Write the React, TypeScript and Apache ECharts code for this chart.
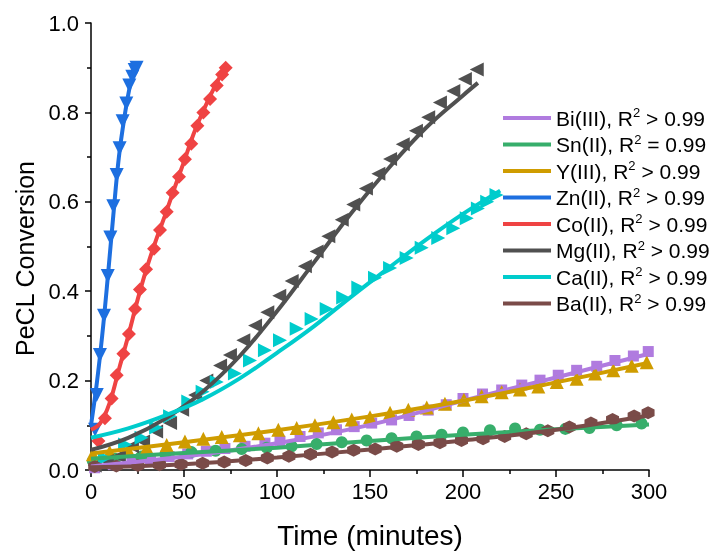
import React, { useEffect, useRef } from "react";
import * as echarts from "echarts";

const seriesNames = ["Bi(III)", "Sn(II)", "Y(III)", "Zn(II)", "Co(II)", "Mg(II)", "Ca(II)", "Ba(II)"];
const r2Labels = ["> 0.99", "= 0.99", "> 0.99", "> 0.99", "> 0.99", "> 0.99", "> 0.99", "> 0.99"];
const colors = ["#B07BDF", "#37AE6B", "#CF9C00", "#1D6FE0", "#EF4343", "#505050", "#00CCCC", "#7A4B48"];

const xTicks = [0, 50, 100, 150, 200, 250, 300];
const yTicks = [0, 0.2, 0.4, 0.6, 0.8, 1.0];

// measured data points [time (min), conversion]
const biData: [number, number][] = [
  [2, 0.005], [12, 0.012], [22, 0.018], [32, 0.024], [42, 0.03], [52, 0.036], [62, 0.042], [72, 0.048],
  [82.8, 0.053], [93.5, 0.06], [101.6, 0.064], [112.4, 0.075], [122.2, 0.083], [132, 0.09], [141.5, 0.097],
  [150.9, 0.105], [161.6, 0.112], [171, 0.122], [181.3, 0.134], [191, 0.146], [200, 0.16], [210.5, 0.17],
  [220.8, 0.179], [231.6, 0.19], [241.4, 0.201], [251.2, 0.212], [261.1, 0.223], [271.9, 0.232],
  [281.7, 0.245], [291.6, 0.255], [299.6, 0.265],
];
const snData: [number, number][] = [
  [1, 0.02], [13, 0.025], [27, 0.03], [40, 0.035], [54, 0.04], [67, 0.043], [81, 0.047], [94.5, 0.05],
  [107.9, 0.053], [121.3, 0.058], [134.8, 0.062], [148.2, 0.066], [161.6, 0.071], [175, 0.075],
  [188.5, 0.079], [200, 0.084], [214.5, 0.089], [228, 0.093], [241.4, 0.09], [255, 0.092], [268, 0.094],
  [282.6, 0.1], [296, 0.104],
];
const yData: [number, number][] = [
  [1, 0.035], [10, 0.04], [20, 0.045], [30, 0.05], [40.7, 0.056], [50.5, 0.064], [60.4, 0.07], [70.3, 0.074],
  [80, 0.078], [90, 0.082], [100.7, 0.09], [110.6, 0.094], [120.4, 0.1], [130.3, 0.107], [140.2, 0.113],
  [150, 0.118], [160.8, 0.128], [170.6, 0.135], [180.5, 0.14], [190.3, 0.148], [200.5, 0.157], [210, 0.165],
  [220.8, 0.174], [230.6, 0.18], [240.5, 0.187], [250.4, 0.197], [261.1, 0.204], [271, 0.216],
  [280.8, 0.223], [290.7, 0.233], [298.8, 0.241],
];
const znData: [number, number][] = [
  [2.2, 0.09], [3.1, 0.168], [4.8, 0.257], [7.0, 0.345], [9.0, 0.434], [10.4, 0.52], [12.0, 0.59],
  [13.8, 0.66], [15.4, 0.72], [17.0, 0.78], [19.0, 0.82], [20.6, 0.86], [22.2, 0.88], [23.5, 0.895], [24.5, 0.9],
];
const coData: [number, number][] = [
  [4, 0.065], [7.5, 0.116], [11.1, 0.16], [13.8, 0.212], [17.4, 0.26], [20.4, 0.304], [23.7, 0.36],
  [26.3, 0.404], [29.6, 0.449], [33.9, 0.495], [37.1, 0.537], [40.7, 0.578], [43.9, 0.62], [47.3, 0.656],
  [50.5, 0.695], [53.9, 0.73], [57.2, 0.77], [60.4, 0.8], [64, 0.83], [67.6, 0.86], [70.5, 0.885], [72.4, 0.9],
];
const mgData: [number, number][] = [
  [2, 0.01], [8.5, 0.02], [15, 0.031], [22, 0.053], [28, 0.064], [35, 0.086], [42.5, 0.105], [49, 0.135],
  [56, 0.168], [62, 0.2], [69.4, 0.234], [74.7, 0.257], [81.9, 0.29], [88.2, 0.323], [94.8, 0.353],
  [101.2, 0.39], [107.9, 0.423], [115, 0.456], [121.3, 0.489], [127.6, 0.523], [134.8, 0.56], [141, 0.594],
  [147.8, 0.63], [154.5, 0.663], [160.8, 0.696], [167.6, 0.729], [174.7, 0.759], [181.3, 0.789],
  [187.6, 0.822], [194.8, 0.848], [201, 0.875], [207.4, 0.896],
];
const caData: [number, number][] = [
  [7.5, 0.027], [18.3, 0.057], [27.2, 0.072], [35, 0.095], [42.5, 0.12], [52.3, 0.153], [60, 0.175],
  [67.6, 0.197], [77.4, 0.216], [85.5, 0.245], [93.5, 0.268], [101.6, 0.29], [110.6, 0.316], [118.6, 0.338],
  [126.7, 0.36], [135.6, 0.386], [143.7, 0.408], [152.7, 0.43], [160.8, 0.452], [169.7, 0.474],
  [177.8, 0.497], [186.7, 0.519], [194.8, 0.541], [202, 0.563], [208, 0.585], [213, 0.6], [218, 0.615],
];
const baData: [number, number][] = [
  [2, 0.008], [13.6, 0.009], [25.2, 0.01], [36.8, 0.012], [48.4, 0.013], [60, 0.015], [71.6, 0.018],
  [83.2, 0.021], [94.8, 0.027], [106.4, 0.031], [118, 0.035], [129.6, 0.04], [141.2, 0.044], [152.8, 0.047],
  [164.4, 0.053], [176, 0.057], [187.6, 0.061], [199.2, 0.066], [210.8, 0.07], [222.4, 0.075], [234, 0.081],
  [245.6, 0.088], [257.2, 0.096], [268.8, 0.105], [280.4, 0.113], [292, 0.121], [299.5, 0.128],
];

// fitted curves [time (min), conversion]
const biFit: [number, number][] = [[0, 0.008], [50, 0.03], [100, 0.06], [150, 0.101], [200, 0.155], [250, 0.207], [300, 0.26]];
const snFit: [number, number][] = [[0, 0.025], [50, 0.038], [100, 0.05], [150, 0.065], [200, 0.079], [250, 0.091], [300, 0.102]];
const yFit: [number, number][] = [[0, 0.037], [50, 0.062], [100, 0.089], [150, 0.12], [200, 0.155], [250, 0.196], [300, 0.24]];
const znFit: [number, number][] = [[0, 0.1], [3, 0.19], [6, 0.3], [9, 0.43], [12, 0.57], [15, 0.7], [18, 0.79], [21, 0.86], [24, 0.905]];
const coFit: [number, number][] = [
  [0, 0.09], [5, 0.105], [10, 0.15], [15, 0.225], [20, 0.3], [25, 0.38], [30, 0.452], [35, 0.515],
  [40, 0.572], [45, 0.632], [50, 0.69], [55, 0.75], [60, 0.8], [65, 0.845], [70, 0.885], [73, 0.905],
];
const mgFit: [number, number][] = [
  [0, 0.045], [20, 0.072], [40, 0.115], [60, 0.175], [80, 0.255], [100, 0.355], [120, 0.465],
  [140, 0.575], [160, 0.675], [180, 0.765], [200, 0.838], [208, 0.866],
];
const caFit: [number, number][] = [
  [0, 0.072], [20, 0.093], [40, 0.122], [60, 0.158], [80, 0.205], [100, 0.262], [120, 0.322],
  [140, 0.388], [160, 0.452], [180, 0.515], [200, 0.573], [220, 0.625],
];
const baFit: [number, number][] = [[0, 0.006], [50, 0.013], [100, 0.028], [150, 0.046], [200, 0.066], [250, 0.09], [300, 0.122]];

const allData = [biData, snData, yData, znData, coData, mgData, caData, baData];
const allFits = [biFit, snFit, yFit, znFit, coFit, mgFit, caFit, baFit];

const hexagon = "path://M0,-1L0.866,-0.5L0.866,0.5L0,1L-0.866,0.5L-0.866,-0.5Z";
const symbols = ["rect", "circle", "triangle", "triangle", "diamond", "triangle", "triangle", hexagon];
const rotations = [0, 0, 0, 180, 0, 90, -90, 0];
const sizes = [11, 12, 14, 14, 14, 14, 14, 13];

const FONT = "Liberation Sans, Arial, sans-serif";

export default function App() {
  const ref = useRef<HTMLDivElement>(null);
  useEffect(() => {
    if (!ref.current) return;
    const chart = echarts.init(ref.current, undefined, { renderer: "svg" });
    const scatterSeries = allData.map((d, i) => ({
      name: seriesNames[i] + " data",
      type: "scatter",
      data: d,
      symbol: symbols[i],
      symbolRotate: rotations[i],
      symbolSize: sizes[i],
      itemStyle: { color: colors[i], opacity: 1 },
      z: 2,
    }));
    const fitSeries = allFits.map((d, i) => ({
      name: seriesNames[i],
      type: "line",
      data: d,
      smooth: 0.4,
      showSymbol: false,
      symbol: "none",
      lineStyle: { color: colors[i], width: 4 },
      itemStyle: { color: colors[i] },
      z: 3,
    }));
    chart.setOption({
      animation: false,
      textStyle: { fontFamily: FONT },
      grid: { left: 91, right: 63, top: 23, bottom: 80, containLabel: false },
      legend: {
        orient: "vertical",
        left: 503,
        top: 106,
        padding: 0,
        icon: "rect",
        itemWidth: 48,
        itemHeight: 4,
        itemGap: 4,
        data: seriesNames,
        formatter: (name: string) => {
          const i = seriesNames.indexOf(name);
          return `{a|${name}, R}{s|2}{a| ${r2Labels[i]}}`;
        },
        textStyle: {
          color: "#000",
          fontSize: 21,
          fontFamily: FONT,
          rich: {
            a: { fontSize: 21, lineHeight: 24, color: "#000", fontFamily: FONT },
            s: { fontSize: 13, lineHeight: 24, color: "#000", fontFamily: FONT, verticalAlign: "top", padding: [0, 0, 8, 0] },
          },
        },
      },
      xAxis: {
        type: "value",
        min: xTicks[0],
        max: xTicks[xTicks.length - 1],
        interval: 50,
        name: "Time (minutes)",
        nameLocation: "middle",
        nameGap: 51,
        nameTextStyle: { fontSize: 28, color: "#000", fontFamily: FONT },
        axisLine: { show: true, lineStyle: { color: "#000", width: 1.5 } },
        axisTick: { show: true, inside: false, length: 7, lineStyle: { color: "#000", width: 1.5 } },
        minorTick: { show: true, splitNumber: 2, length: 4, lineStyle: { color: "#000", width: 1.5 } },
        splitLine: { show: false },
        axisLabel: { fontSize: 22, color: "#000", margin: 10, fontFamily: FONT },
      },
      yAxis: {
        type: "value",
        min: yTicks[0],
        max: yTicks[yTicks.length - 1],
        interval: 0.2,
        name: "PeCL Conversion",
        nameLocation: "middle",
        nameGap: 47,
        nameTextStyle: { fontSize: 25, color: "#000", fontFamily: FONT, padding: [0, 24, 0, 0] },
        axisLine: { show: true, lineStyle: { color: "#000", width: 1.5 } },
        axisTick: { show: true, inside: false, length: 6, lineStyle: { color: "#000", width: 1.5 } },
        minorTick: { show: true, splitNumber: 2, length: 4, lineStyle: { color: "#000", width: 1.5 } },
        splitLine: { show: false },
        axisLabel: { fontSize: 22, color: "#000", margin: 12, fontFamily: FONT, formatter: (v: number) => v.toFixed(1) },
      },
      series: [...scatterSeries, ...fitSeries],
    });
    return () => chart.dispose();
  }, []);
  return <div ref={ref} style={{ position: "fixed", left: 0, top: 0, width: 712, height: 554 }} />;
}
